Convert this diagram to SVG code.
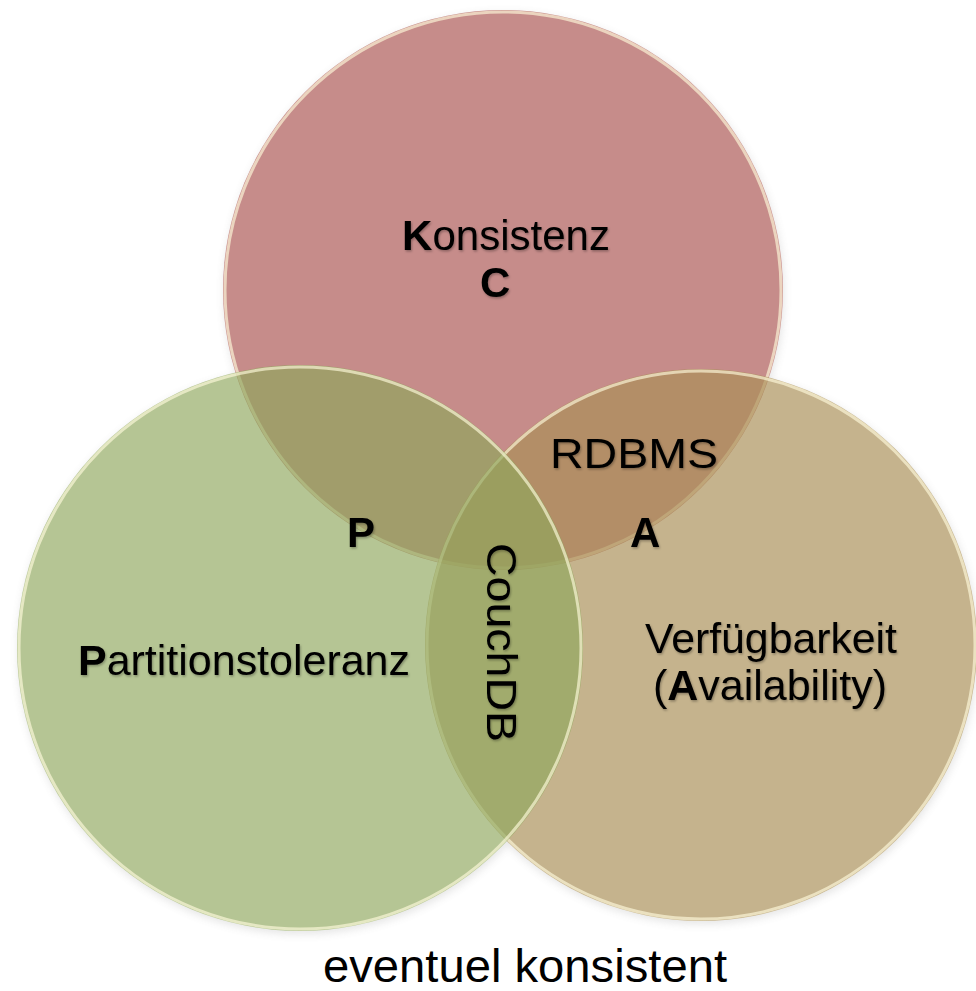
<svg xmlns="http://www.w3.org/2000/svg" width="976" height="991" viewBox="0 0 976 991">
  <defs>
    <style>
      .lbl { font-family: "Liberation Sans", Arial, sans-serif; font-size: 42px; fill: #000; }
      .b { font-weight: bold; }
      .rim { fill: none; stroke: #FFFBDC; stroke-width: 3; stroke-opacity: 0.65; }
      .soft { filter: url(#txtShadow); }
    </style>
    <filter id="txtShadow" x="-10%" y="-30%" width="120%" height="160%">
      <feDropShadow dx="1" dy="1.5" stdDeviation="1.2" flood-color="#000" flood-opacity="0.3"/>
    </filter>
    <filter id="outerShadow" x="-10%" y="-10%" width="120%" height="120%">
      <feGaussianBlur stdDeviation="4"/>
    </filter>
  </defs>

  <rect width="976" height="991" fill="#FFFFFF"/>

  <!-- soft shadow under the three discs -->
  <g opacity="0.16" filter="url(#outerShadow)" fill="#606060">
    <circle cx="504" cy="293" r="280"/>
    <circle cx="702" cy="648" r="276"/>
    <circle cx="301" cy="651" r="283"/>
  </g>
  <!-- white base so the translucent discs are not tinted by the shadow -->
  <g fill="#FFFFFF">
    <circle cx="503" cy="290" r="280"/>
    <circle cx="701" cy="645" r="276"/>
    <circle cx="300" cy="648" r="283"/>
  </g>

  <!-- Konsistenz (C) -->
  <g id="circle-c">
    <circle cx="503" cy="290" r="280" fill="#C68C8A"/>
    <circle class="rim" cx="503" cy="290" r="278"/>
  </g>

  <!-- Verfügbarkeit (A) -->
  <g id="circle-a">
    <circle cx="701" cy="645" r="276" fill="#AA8F57" fill-opacity="0.68"/>
    <circle class="rim" cx="701" cy="645" r="274"/>
  </g>

  <!-- Partitionstoleranz (P) -->
  <g id="circle-p">
    <circle cx="300" cy="648" r="283" fill="#8EA65C" fill-opacity="0.655"/>
    <circle class="rim" cx="300" cy="648" r="281"/>
  </g>

  <!-- labels -->
  <g id="label-c" class="soft">
    <text class="lbl" x="402" y="250" textLength="208" lengthAdjust="spacingAndGlyphs"><tspan class="b">K</tspan>onsistenz</text>
    <text class="lbl b" x="480" y="297">C</text>
  </g>

  <g id="label-p" class="soft">
    <text class="lbl" x="78" y="675" textLength="332" lengthAdjust="spacingAndGlyphs"><tspan class="b">P</tspan>artitionstoleranz</text>
    <text class="lbl b" x="347" y="547">P</text>
  </g>

  <g id="label-a" class="soft">
    <text class="lbl" x="645" y="653" textLength="252" lengthAdjust="spacingAndGlyphs">Verfügbarkeit</text>
    <text class="lbl" x="653" y="700" textLength="234" lengthAdjust="spacingAndGlyphs">(<tspan class="b">A</tspan>vailability)</text>
    <text class="lbl b" x="630" y="547">A</text>
  </g>

  <g id="label-rdbms" class="soft">
    <text class="lbl" x="550" y="468" textLength="168" lengthAdjust="spacingAndGlyphs">RDBMS</text>
  </g>

  <g id="label-couchdb" class="soft">
    <text class="lbl" transform="translate(487 543) rotate(90)" x="0" y="0" textLength="199" lengthAdjust="spacingAndGlyphs">CouchDB</text>
  </g>

  <g id="caption">
    <text class="lbl" x="323" y="982" style="font-size:46px" textLength="404" lengthAdjust="spacingAndGlyphs">eventuel konsistent</text>
  </g>

  <!-- no connectors in this diagram -->
  <g id="connectors"/>
</svg>
